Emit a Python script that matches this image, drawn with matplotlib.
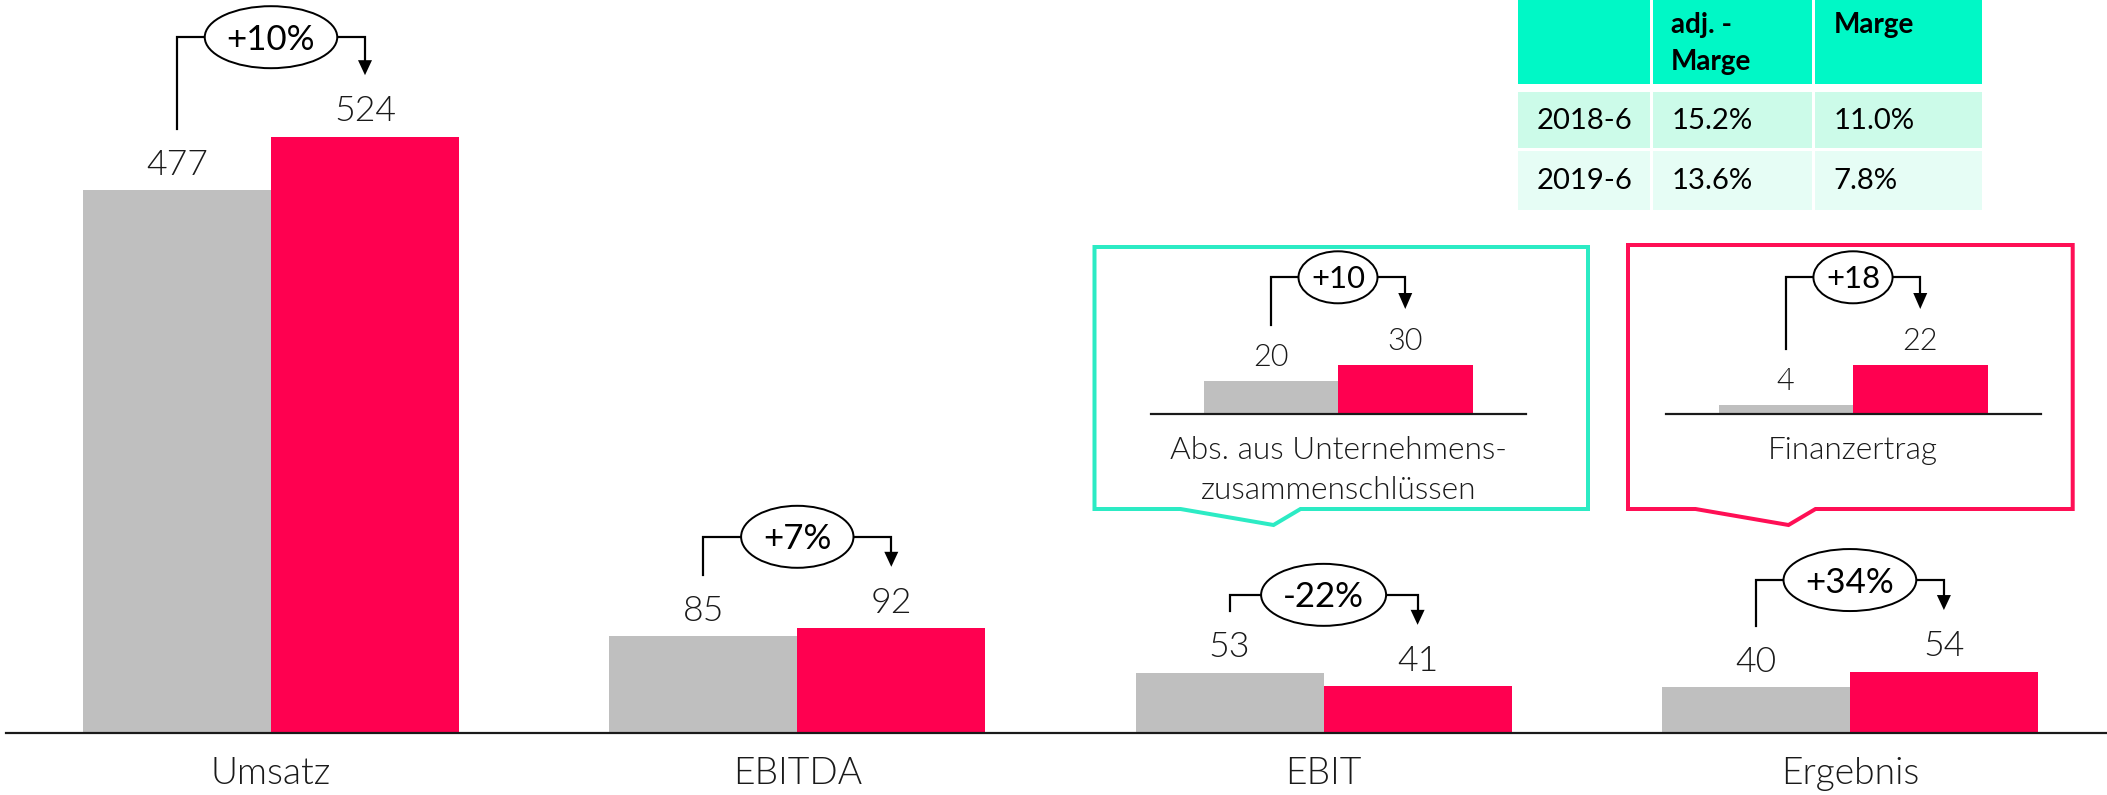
import matplotlib
matplotlib.use("Agg")
import matplotlib.pyplot as plt
from matplotlib.patches import Ellipse, Polygon, Rectangle
import numpy as np

# ---------------- data ----------------
categories = ["Umsatz", "EBITDA", "EBIT", "Ergebnis"]
values_2018 = [477, 85, 53, 40]
values_2019 = [524, 92, 41, 54]
change_labels = ["+10%", "+7%", "-22%", "+34%"]

inset_titles = ["Abs. aus Unternehmens-\nzusammenschlüssen", "Finanzertrag"]
inset_2018 = [20, 4]
inset_2019 = [30, 22]
inset_change = ["+10", "+18"]

table_header = ["", "adj. -\nMarge", "Marge"]
table_periods = ["2018-6", "2019-6"]
table_adj_margin = ["15.2%", "13.6%"]
table_margin = ["11.0%", "7.8%"]

# ---------------- style ----------------
W, H, DPI = 2107, 795, 100
GRAY = "#BFBFBF"
RED = "#FF0050"
TEAL_BOX = "#2CEBC4"
RED_BOX = "#FF0F55"
HEAD = "#00F8C6"
ROW_COLORS = ["#CCFBE9", "#E6FDF5"]
INK = "#1A1A1A"
FONT = ["Lato", "DejaVu Sans"]
CAP = 0.7165  # cap height / em for Lato
LIGHT = 300

plt.rcParams["font.family"] = FONT

fig = plt.figure(figsize=(W / DPI, H / DPI), dpi=DPI)
renderer = fig.canvas.get_renderer()


def px_axes(x0, y0, x1, y1):
    return fig.add_axes([x0 / W, 1 - y1 / H, (x1 - x0) / W, (y1 - y0) / H])


def scale(ax):
    bb = ax.get_position()
    x0, x1 = ax.get_xlim()
    y0, y1 = ax.get_ylim()
    return bb.width * W / (x1 - x0), bb.height * H / (y1 - y0)


def pt(px):
    return px * 72.0 / DPI


def draw_change(ax, xl, xr, vl, vr, label, p):
    sx, sy = scale(ax)
    fs = p["fs"]
    lab_fs = p["lab_fs"]
    cap_lab = lab_fs / 72 * DPI * CAP
    cap_e = fs / 72 * DPI * CAP
    # value labels
    for x, v in ((xl, vl), (xr, vr)):
        ax.text(x, v + (p["label_c"] - cap_lab / 2) / sy, f"{v}", ha="center",
                va="baseline", fontsize=lab_fs, fontweight=LIGHT, color=INK, zorder=5)
    left_bottom = vl + p["line_gap"] / sy
    tip = vr + p["line_gap"] / sy
    by = tip + p["bracket_gap"] / sy + p.get("extra", 0) / sy
    head_top = tip + p["head_h"] / sy
    ax.plot([xl, xl, xr, xr], [left_bottom, by, by, head_top], color="black",
            lw=p["lw"], solid_joinstyle="miter", zorder=3, clip_on=False)
    hw = p["head_w"] / 2 / sx
    ax.add_patch(Polygon([(xr - hw, head_top), (xr + hw, head_top), (xr, tip)],
                         closed=True, facecolor="black", edgecolor="none", zorder=3))
    xc = (xl + xr) / 2
    t = ax.text(xc, by - cap_e / 2 / sy, label, ha="center", va="baseline", fontsize=fs,
                color="black", zorder=6)
    ext = t.get_window_extent(renderer=renderer)
    ax.add_patch(Ellipse((xc, by), width=(ext.width + p["ell_pad"]) / sx,
                         height=p["ell_h"] / sy, facecolor="white",
                         edgecolor="black", lw=p["lw"] * 0.9, zorder=5, clip_on=False))


# ---------------- main chart ----------------
ax = px_axes(0, 0, W, H)
GROUP_PX = 526.3
FIRST_PX = 271.0
BASE_PX = 733.0
PPU = 1.138
ax.set_xlim(-FIRST_PX / GROUP_PX, (W - FIRST_PX) / GROUP_PX)
ax.set_ylim(-(H - BASE_PX) / PPU, BASE_PX / PPU)
ax.axis("off")

x = np.arange(len(categories))
bw = 188 / GROUP_PX
ax.bar(x - bw / 2, values_2018, width=bw, color=GRAY, zorder=2)
ax.bar(x + bw / 2, values_2019, width=bw, color=RED, zorder=2)
ax.axhline(0, xmin=6 / W, xmax=1, color=INK, lw=pt(2.2), zorder=3)

sx, sy = scale(ax)
cat_fs = pt(26.7 / CAP)
for xi, c in zip(x, categories):
    ax.text(xi, -51 / sy, c, ha="center", va="baseline", fontsize=cat_fs,
            fontweight=LIGHT, color=INK)

main_p = dict(fs=pt(25 / CAP), lab_fs=pt(25.5 / CAP), label_c=28, line_gap=61.5,
              bracket_gap=30, head_w=14, head_h=15, lw=pt(2.2), ell_pad=44, ell_h=62)
for i in range(len(categories)):
    p = dict(main_p)
    if i == 0:
        p["extra"] = 8
    draw_change(ax, x[i] - bw / 2, x[i] + bw / 2, values_2018[i], values_2019[i],
                change_labels[i], p)

# ---------------- insets ----------------
inset_boxes = [(1094.5, 247, 1588, 509, 1338, TEAL_BOX), (1628, 245, 2072.7, 509, 1853, RED_BOX)]
IN_BAR = 134.5
IN_BASE = 414
IN_MAXH = 49
in_p = dict(fs=pt(22.3 / CAP), lab_fs=pt(22 / CAP), label_c=26, line_gap=56,
            bracket_gap=31.7, head_w=14, head_h=16, lw=pt(2.2), ell_pad=25, ell_h=52)
for k, (x0, y0, x1, y1, xc, col) in enumerate(inset_boxes):
    ia = px_axes(x0, y0, x1, y1)
    ia.axis("off")
    vmax = max(inset_2018[k], inset_2019[k])
    ia.set_xlim((x0 - xc) / IN_BAR, (x1 - xc) / IN_BAR)
    ia.set_ylim(-(y1 - IN_BASE) / IN_MAXH * vmax, (IN_BASE - y0) / IN_MAXH * vmax)
    ia.bar([-0.5, 0.5], [inset_2018[k], inset_2019[k]], width=1.0, color=[GRAY, RED], zorder=2)
    ia.plot([-187.5 / IN_BAR, 187.5 / IN_BAR], [0, 0], color=INK, lw=pt(2.2), zorder=3)
    draw_change(ia, -0.5, 0.5, inset_2018[k], inset_2019[k], inset_change[k], in_p)
    isx, isy = scale(ia)
    tfs = pt(22.7 / CAP)
    for j, line in enumerate(inset_titles[k].split("\n")):
        ia.text(0, -(45.4 + 40 * j) / isy, line, ha="center", va="baseline",
                fontsize=tfs, fontweight=LIGHT, color=INK)
    # frame with pointer (axes fraction)
    bw_px, bh_px = x1 - x0, y1 - y0
    pts = [(0, 0), (0, 1), (1, 1), (1, 0),
           ((xc - 37.5 - x0) / bw_px, 0),
           ((xc - 64.5 - x0) / bw_px, -16 / bh_px),
           ((xc - 157.5 - x0) / bw_px, 0)]
    ia.add_patch(Polygon(pts, closed=True, transform=ia.transAxes, fill=False,
                         edgecolor=col, lw=pt(4), clip_on=False, joinstyle="miter"))

# ---------------- table ----------------
ta = px_axes(0, 0, W, H)
ta.set_xlim(0, W)
ta.set_ylim(H, 0)
ta.axis("off")
col_edges = [(1518.3, 1650), (1652.7, 1812), (1815, 1982.3)]
row_edges = [(-5, 83.7), (92, 147.7), (151, 210)]
text_pad = 18.5
for (cx0, cx1) in col_edges:
    ta.add_patch(Rectangle((cx0, row_edges[0][0]), cx1 - cx0, row_edges[0][1] - row_edges[0][0],
                           facecolor=HEAD, edgecolor="none"))
    for r in range(2):
        ry0, ry1 = row_edges[r + 1]
        ta.add_patch(Rectangle((cx0, ry0), cx1 - cx0, ry1 - ry0,
                               facecolor=ROW_COLORS[r], edgecolor="none"))
hfs = pt(20 / CAP)
for j, h in enumerate(table_header):
    for li, line in enumerate(h.split("\n")):
        ta.text(col_edges[j][0] + text_pad, 33 + 37 * li, line, ha="left", va="baseline",
                fontsize=hfs, fontweight="bold", color="black")
rfs = pt(21 / CAP)
row_cols = [table_periods, table_adj_margin, table_margin]
for r in range(2):
    yc = [118.8, 178.8][r]
    for j in range(3):
        ta.text(col_edges[j][0] + text_pad, yc + 10.5, row_cols[j][r], ha="left",
                va="baseline", fontsize=rfs, color="black")

fig.savefig("out.png", dpi=DPI)
